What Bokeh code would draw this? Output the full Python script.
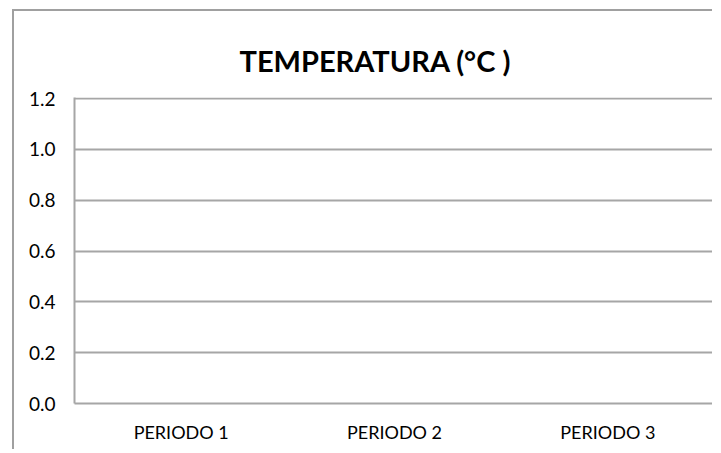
from bokeh.plotting import figure
from bokeh.models import FactorRange, Range1d, FixedTicker, NumeralTickFormatter, ColumnDataSource
from bokeh.embed import file_html
from bokeh.resources import INLINE

title_text = "TEMPERATURA (°C )"
categories = ["PERIODO 1", "PERIODO 2", "PERIODO 3"]
values = []  # the reference chart shows no data
y_ticks = [0.0, 0.2, 0.4, 0.6, 0.8, 1.0, 1.2]

GRID = "#a6a6a6"
FONT = "Lato"

p = figure(x_range=FactorRange(*categories, range_padding=0), y_range=Range1d(0, 1.204),
           width=700, height=440, output_backend="svg", toolbar_location=None,
           min_border_left=60, min_border_top=86, min_border_right=0, min_border_bottom=48)
p.margin = (9, 0, 0, 12)
p.styles = {"border-left": "2px solid #a0a0a0", "border-top": "2px solid #a0a0a0"}

p.title.text = title_text
p.title.align = "left"
p.title.offset = 165
p.title.text_font = FONT
p.title.text_font_style = "bold"
p.title.text_font_size = "29px"
p.title.text_color = "#000000"
p.title.standoff = 40

p.outline_line_color = None
p.xgrid.grid_line_color = None
p.ygrid.grid_line_color = GRID
p.ygrid.grid_line_width = 2

p.yaxis.ticker = FixedTicker(ticks=y_ticks)
p.yaxis.formatter = NumeralTickFormatter(format="0.0")
p.yaxis.axis_line_color = GRID
p.yaxis.axis_line_width = 2
p.yaxis.major_tick_line_color = None
p.yaxis.minor_tick_line_color = None
p.yaxis.major_label_text_font = FONT
p.yaxis.major_label_text_font_size = "19px"
p.yaxis.major_label_text_color = "#000000"
p.yaxis.major_label_standoff = 13

p.xaxis.axis_line_color = GRID
p.xaxis.axis_line_width = 2
p.xaxis.major_tick_line_color = None
p.xaxis.minor_tick_line_color = None
p.xaxis.major_label_text_font = FONT
p.xaxis.major_label_text_font_size = "18px"
p.xaxis.major_label_text_color = "#000000"
p.xaxis.major_label_standoff = 11

src = ColumnDataSource(data=dict(x=categories[:len(values)], top=values))
p.vbar(x="x", top="top", width=0.6, source=src, color="#4f81bd")

open("out.html", "w").write(file_html(p, INLINE))
